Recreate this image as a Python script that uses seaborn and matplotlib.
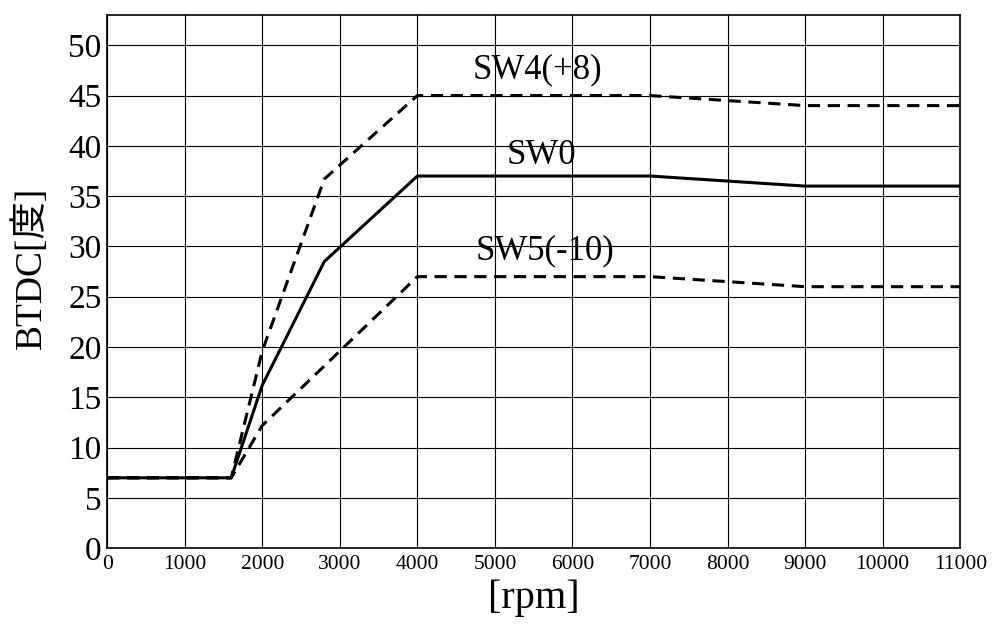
import numpy as np
import pandas as pd
import seaborn as sns
import matplotlib.pyplot as plt

# ---- data ----
rpm_sw0 = [0, 1600, 2000, 2800, 4000, 7000, 9000, 11000]
btdc_sw0 = [7, 7, 16.2, 28.5, 37, 37, 36, 36]

rpm_sw4 = [0, 1600, 2000, 2800, 4000, 7000, 9000, 11000]
btdc_sw4 = [7, 7, 19.6, 36.7, 45, 45, 44, 44]

rpm_sw5 = [0, 1600, 2000, 4000, 7000, 9000, 11000]
btdc_sw5 = [7, 7, 12.2, 27, 27, 26, 26]

series_names = ["SW4(+8)", "SW0", "SW5(-10)"]
label_pos = {"SW4(+8)": (5550, 47.6), "SW0": (5600, 39.0), "SW5(-10)": (5650, 29.6)}

x_ticks = list(range(0, 11001, 1000))
y_ticks = list(range(0, 51, 5))

df = pd.concat([
    pd.DataFrame({"rpm": rpm_sw4, "btdc": btdc_sw4, "sw": "SW4(+8)"}),
    pd.DataFrame({"rpm": rpm_sw0, "btdc": btdc_sw0, "sw": "SW0"}),
    pd.DataFrame({"rpm": rpm_sw5, "btdc": btdc_sw5, "sw": "SW5(-10)"}),
], ignore_index=True)

sns.set_style("white")
plt.rcParams["font.family"] = ["Liberation Serif", "Noto Sans CJK JP"]
plt.rcParams["text.color"] = "black"
plt.rcParams["axes.labelcolor"] = "black"
plt.rcParams["xtick.color"] = "black"
plt.rcParams["ytick.color"] = "black"

fig = plt.figure(figsize=(9.92, 6.28), dpi=100)
ax = fig.add_axes([0.108, 0.127, 0.860, 0.849])

sns.lineplot(data=df, x="rpm", y="btdc", hue="sw", style="sw",
             hue_order=series_names, style_order=series_names,
             palette={n: "black" for n in series_names},
             dashes={"SW4(+8)": (4, 2.5), "SW0": "", "SW5(-10)": (4, 2.5)},
             sort=False, estimator=None, linewidth=2.2, legend=False, ax=ax)

for name, (tx, ty) in label_pos.items():
    ax.text(tx, ty, name, fontsize=25, ha="center", va="center", color="black")

ax.set_xlim(0, 11000)
ax.set_ylim(0, 53)
ax.set_xticks(x_ticks)
ax.set_yticks(y_ticks)
ax.tick_params(axis="x", labelsize=15.5, length=0, pad=5)
ax.tick_params(axis="y", labelsize=24, length=0, pad=4)
ax.grid(True, color="black", linewidth=0.8)
for s in ax.spines.values():
    s.set_color("black")
    s.set_linewidth(1.2)

ax.set_xlabel("[rpm]", fontsize=29, labelpad=4)
ax.set_ylabel("BTDC[度]", fontsize=27)
ax.yaxis.set_label_coords(-0.068, 0.525)

fig.savefig("out.png", dpi=100)
